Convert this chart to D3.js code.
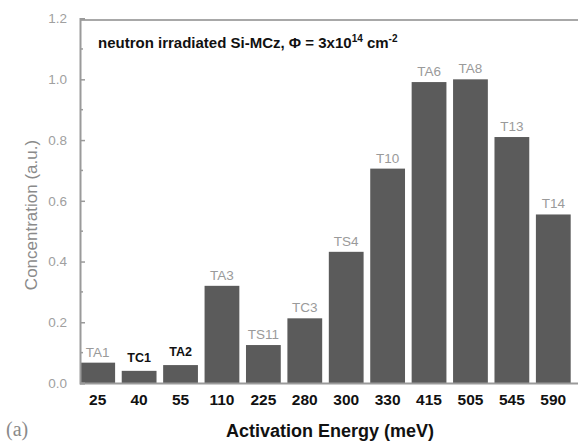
<!DOCTYPE html>
<html>
<head>
<meta charset="utf-8">
<script src="https://cdn.jsdelivr.net/npm/d3@7"></script>
<style>
  html, body { margin: 0; padding: 0; background: #fff; }
  svg { display: block; }
</style>
</head>
<body>
<svg id="chart" width="579" height="446"></svg>
<script>
// Activation energies (meV) and the defect level found at each one
const energies = ["25", "40", "55", "110", "225", "280", "300", "330", "415", "505", "545", "590"];
const defects = ["TA1", "TC1", "TA2", "TA3", "TS11", "TC3", "TS4", "T10", "TA6", "TA8", "T13", "T14"];
const concentration = [0.067, 0.04, 0.059, 0.32, 0.125, 0.213, 0.432, 0.706, 0.991, 1.0, 0.81, 0.555];
const yTicks = [0.0, 0.2, 0.4, 0.6, 0.8, 1.0, 1.2];
const boldDefects = ["TC1", "TA2"];

const data = energies.map((e, i) => ({ energy: e, defect: defects[i], value: concentration[i] }));

const svg = d3.select("#chart");
const plotLeft = 80, plotRight = 578, plotTop = 20, plotBottom = 383;
const sans = "Liberation Sans, Arial, sans-serif";

const x = d3.scaleBand()
  .domain(energies)
  .range([77, 574])
  .paddingInner(0.16)
  .paddingOuter(0.08);

const y = d3.scaleLinear().domain([0, 1.2]).range([plotBottom, 18.6]);

const axisGrey = "#9a9a9a";

// frame (top edge)
svg.append("line")
  .attr("x1", plotLeft).attr("x2", plotRight)
  .attr("y1", plotTop).attr("y2", plotTop)
  .attr("stroke", "#a8a8a8").attr("stroke-width", 2);

// bars
svg.append("g").selectAll("rect")
  .data(data).join("rect")
  .attr("x", d => x(d.energy))
  .attr("y", d => y(d.value))
  .attr("width", x.bandwidth())
  .attr("height", d => y(0) - y(d.value))
  .attr("fill", "#5b5b5b");

// labels above bars
svg.append("g").selectAll("text")
  .data(data).join("text")
  .attr("x", d => x(d.energy) + x.bandwidth() / 2)
  .attr("y", d => y(d.value) - (boldDefects.includes(d.defect) ? 9 : 6))
  .attr("text-anchor", "middle")
  .attr("font-family", sans)
  .attr("font-size", d => boldDefects.includes(d.defect) ? 12.5 : 13.5)
  .attr("font-weight", d => boldDefects.includes(d.defect) ? "bold" : "normal")
  .attr("fill", d => boldDefects.includes(d.defect) ? "#111" : "#9a9a9a")
  .text(d => d.defect);

// y axis with major and minor ticks pointing inward
const yAxis = d3.axisLeft(y)
  .tickValues(yTicks)
  .tickSize(-5)
  .tickPadding(13)
  .tickFormat(d3.format(".1f"));

const yg = svg.append("g")
  .attr("transform", `translate(${plotLeft},0)`)
  .call(yAxis);
yg.select(".domain").attr("stroke", axisGrey).attr("stroke-width", 2);
yg.selectAll(".tick line").attr("stroke", axisGrey).attr("stroke-width", 1.5);
yg.selectAll(".tick text")
  .attr("fill", "#a0a0a0")
  .attr("font-family", sans)
  .attr("font-size", 13.5);

const minor = d3.range(0.1, 1.2, 0.2);
svg.append("g").selectAll("line")
  .data(minor).join("line")
  .attr("x1", plotLeft).attr("x2", plotLeft + 3)
  .attr("y1", d => y(d)).attr("y2", d => y(d))
  .attr("stroke", axisGrey).attr("stroke-width", 1.5);

// x axis
const xg = svg.append("g")
  .attr("transform", `translate(0,${plotBottom})`)
  .call(d3.axisBottom(x).tickSize(0).tickPadding(11));
xg.select(".domain")
  .attr("d", `M${plotLeft},0.5H${plotRight}`)
  .attr("stroke", axisGrey).attr("stroke-width", 2);
xg.selectAll(".tick text")
  .attr("fill", "#111")
  .attr("font-family", sans)
  .attr("font-weight", "bold")
  .attr("font-size", 15.5);

// axis titles
svg.append("text")
  .attr("x", 330).attr("y", 437)
  .attr("text-anchor", "middle")
  .attr("font-family", sans)
  .attr("font-weight", "bold")
  .attr("font-size", 18)
  .attr("fill", "#111")
  .text("Activation Energy (meV)");

svg.append("text")
  .attr("transform", "translate(37,215) rotate(-90)")
  .attr("text-anchor", "middle")
  .attr("font-family", sans)
  .attr("font-size", 17)
  .attr("fill", "#8a8a8a")
  .text("Concentration (a.u.)");

// sample annotation with superscript exponents
const note = svg.append("text")
  .attr("x", 98).attr("y", 48)
  .attr("font-family", sans)
  .attr("font-weight", "bold")
  .attr("font-size", 15)
  .attr("fill", "#111");
note.append("tspan").text("neutron irradiated Si-MCz, Φ = 3x10");
note.append("tspan").attr("font-size", 10).attr("dy", -6).text("14");
note.append("tspan").attr("dy", 6).text(" cm");
note.append("tspan").attr("font-size", 10).attr("dy", -6).text("-2");

// panel marker
svg.append("text")
  .attr("x", 6).attr("y", 436)
  .attr("font-family", "Liberation Serif, Times New Roman, serif")
  .attr("font-size", 20)
  .attr("fill", "#8a8a8a")
  .text("(a)");
</script>
</body>
</html>
